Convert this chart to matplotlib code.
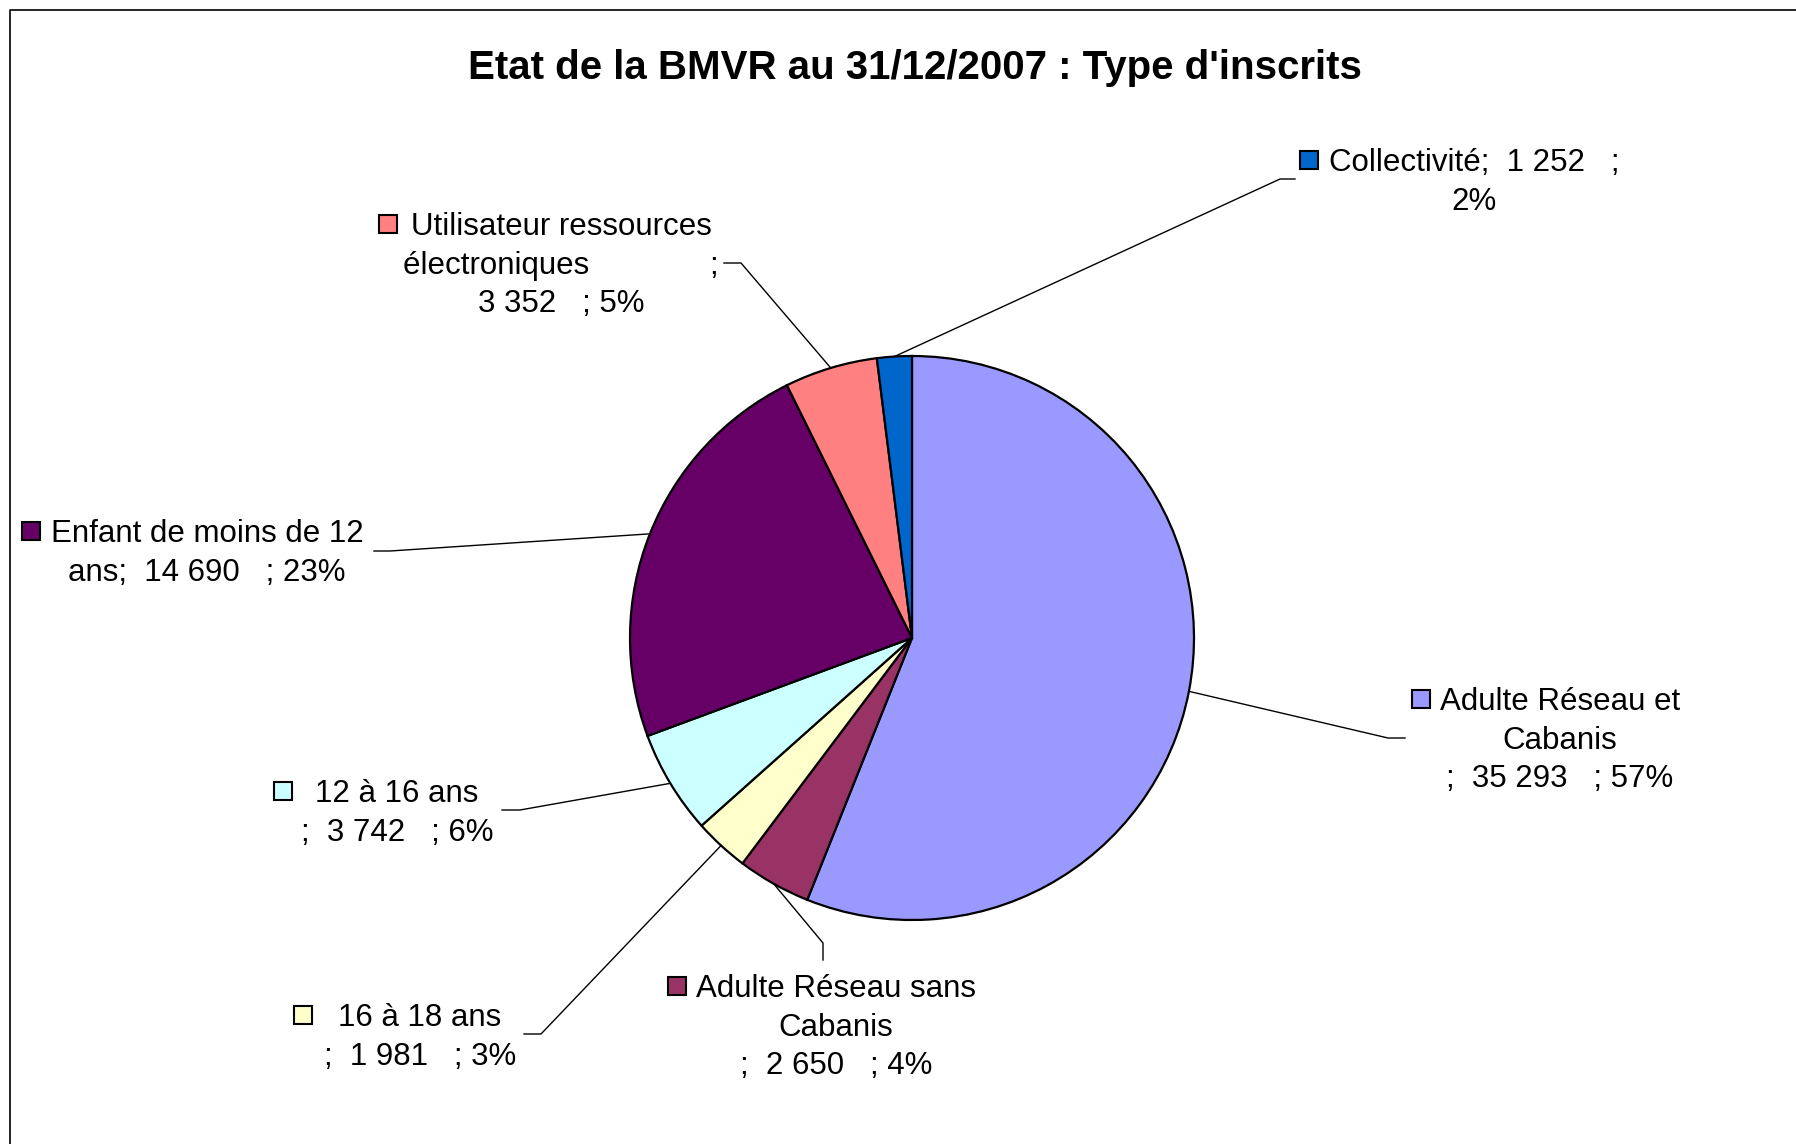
import numpy as np
import matplotlib.pyplot as plt
from matplotlib.patches import Rectangle

plt.rcParams['font.family'] = ['Liberation Sans', 'DejaVu Sans']

W, H = 1796, 1144

# data, clockwise from 12 o'clock
categories = ["Adulte Réseau et Cabanis", "Adulte Réseau sans Cabanis", "16 à 18 ans",
              "12 à 16 ans", "Enfant de moins de 12 ans", "Utilisateur ressources électroniques",
              "Collectivité"]
values = [35293, 2650, 1981, 3742, 14690, 3352, 1252]
pct_labels = ["57%", "4%", "3%", "6%", "23%", "5%", "2%"]
colors = ["#9999FF", "#993366", "#FFFFCC", "#CCFFFF", "#660066", "#FF8080", "#0066CC"]

# how excel wrapped each label
templates = [
    "Adulte Réseau et\nCabanis\n;  {v}   ; {p}",
    "Adulte Réseau sans\nCabanis\n;  {v}   ; {p}",
    "16 à 18 ans\n;  {v}   ; {p}",
    "12 à 16 ans\n;  {v}   ; {p}",
    "Enfant de moins de 12\nans;  {v}   ; {p}",
    "Utilisateur ressources\nélectroniques              ;\n{v}   ; {p}",
    "Collectivité;  {v}   ;\n{p}",
]

# label layout (pixels, y down): text centre x, first line centre y, marker x
lab_x = [1560, 836, 420, 397, 207, 561, 1474]
lab_y = [699, 986, 1015, 791, 531, 224, 160]
mark_x = [1421, 677, 303, 283, 31, 388, 1309]
# leader lines: elbow point and end point
elbow = [(1388, 738), (823, 943), (541, 1034), (520, 810), (390, 551), (741, 263), (1280, 179)]
lend = [(1405, 738), (823, 960), (524, 1034), (502, 810), (374, 551), (724, 263), (1295, 179)]

cx, cy, R = 912, 638, 282


def fy(y):
    return H - y


fig = plt.figure(figsize=(W / 100, H / 100), dpi=100)
ax = fig.add_axes([0, 0, 1, 1])

wedges, _ = ax.pie(values, colors=colors, startangle=90, counterclock=False,
                   center=(cx, fy(cy)), radius=R,
                   wedgeprops=dict(edgecolor='black', linewidth=1.6))
ax.set_xlim(0, W)
ax.set_ylim(0, H)
ax.set_aspect('equal')
ax.axis('off')

# frame (only left and top visible)
ax.plot([10, 10, W + 5], [-5, fy(10), fy(10)], color='black', lw=1.2, clip_on=False)

ax.text(915, fy(68), "Etat de la BMVR au 31/12/2007 : Type d'inscrits",
        ha='center', va='center', fontsize=29, fontweight='bold')

fs = 22.5
for i, w in enumerate(wedges):
    mid = np.deg2rad((w.theta1 + w.theta2) / 2)
    sx = cx + R * np.cos(mid)
    sy = fy(cy) + R * np.sin(mid)
    ex, ey = elbow[i]
    nx, ny = lend[i]
    ax.plot([sx, ex, nx], [sy, fy(ey), fy(ny)], color='black', lw=1.0)

    vtxt = format(values[i], ',').replace(',', ' ')
    txt = templates[i].format(v=vtxt, p=pct_labels[i])
    ax.text(lab_x[i], fy(lab_y[i]) + 12, txt, ha='center', va='top',
            fontsize=fs, linespacing=1.38, multialignment='center')
    ax.add_patch(Rectangle((mark_x[i] - 9, fy(lab_y[i]) - 9), 18, 18,
                           facecolor=colors[i], edgecolor='black', lw=1.5))

plt.savefig('out.png', dpi=100)
